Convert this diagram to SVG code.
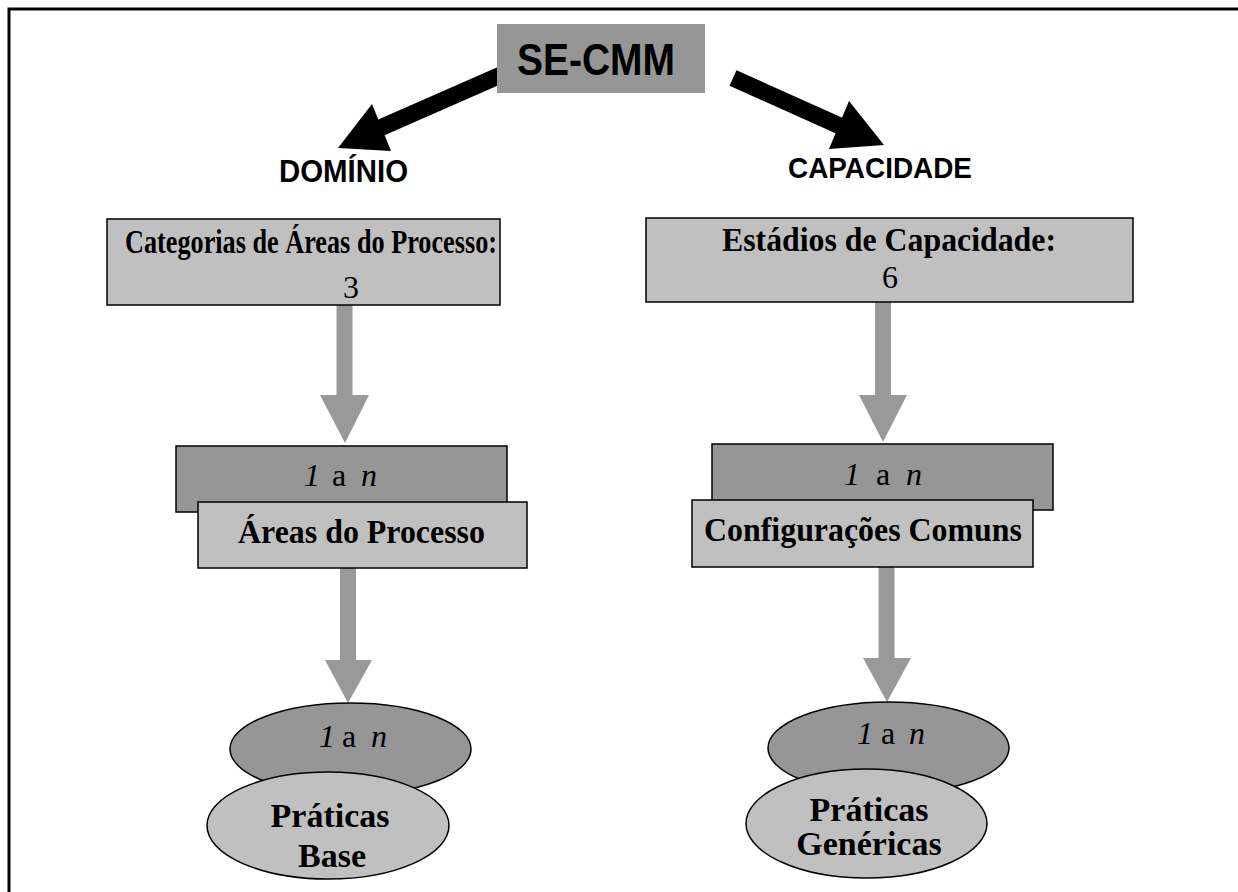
<svg xmlns="http://www.w3.org/2000/svg" width="1238" height="892" viewBox="0 0 1238 892">
  <style>
    .sans { font-family: "Liberation Sans", Arial, sans-serif; font-weight: bold; fill: #000; }
    .serif { font-family: "Liberation Serif", "Times New Roman", serif; fill: #000; }
    .b { font-weight: bold; font-size: 34px; }
    .n { font-size: 32px; }
    .i { font-style: italic; }
    .light { fill: #c0c0c0; stroke: #000; stroke-width: 1.5; }
    .dark { fill: #969696; stroke: #000; stroke-width: 1.5; }
    .shaft { stroke: #999999; stroke-width: 16; }
    .head { fill: #999999; }
    .bigline { stroke: #000; stroke-width: 17; }
  </style>

  <rect width="1238" height="892" fill="#fff"/>

  <!-- page frame: top and left rule -->
  <path d="M9 892 V9 H1238" fill="none" stroke="#000" stroke-width="3"/>

  <!-- connectors -->
  <g id="connectors">
    <!-- black arrows from the root -->
    <line class="bigline" x1="503" y1="74" x2="380" y2="128"/>
    <polygon points="372,104 391,151 338,148" fill="#000"/>
    <line class="bigline" x1="733" y1="78" x2="840" y2="126"/>
    <polygon points="849,101 829,149 884,145" fill="#000"/>

    <!-- grey downward arrows, left column -->
    <line class="shaft" x1="344.5" y1="305" x2="344.5" y2="396"/>
    <polygon class="head" points="320,395 369,395 345,443"/>
    <line class="shaft" x1="348" y1="568" x2="348" y2="661"/>
    <polygon class="head" points="325,660 372,660 348,703"/>

    <!-- grey downward arrows, right column -->
    <line class="shaft" x1="883" y1="302" x2="883" y2="396"/>
    <polygon class="head" points="859,395 907,395 883,442"/>
    <line class="shaft" x1="886.5" y1="567" x2="886.5" y2="659"/>
    <polygon class="head" points="863,658 911,658 887,702"/>
  </g>

  <!-- root -->
  <g id="se-cmm">
    <rect x="497" y="24" width="208" height="69" fill="#969696"/>
    <text class="sans" x="517" y="75" font-size="44" textLength="158" lengthAdjust="spacingAndGlyphs">SE-CMM</text>
  </g>

  <g id="dominio">
    <text class="sans" x="279" y="182" font-size="31" textLength="129" lengthAdjust="spacingAndGlyphs">DOMÍNIO</text>
  </g>

  <g id="capacidade">
    <text class="sans" x="788" y="178" font-size="30" textLength="184" lengthAdjust="spacingAndGlyphs">CAPACIDADE</text>
  </g>

  <!-- left column -->
  <g id="categorias">
    <rect class="light" x="107" y="219" width="393" height="86"/>
    <text class="serif b" x="125" y="253" font-size="33" textLength="372" lengthAdjust="spacingAndGlyphs">Categorias de Áreas do Processo:</text>
    <text class="serif n" x="351" y="298" text-anchor="middle">3</text>
  </g>

  <g id="areas-quantidade">
    <rect class="dark" x="176" y="446" width="331" height="66"/>
    <text class="serif n" y="486"><tspan class="i" x="304">1</tspan><tspan x="332">a</tspan><tspan class="i" x="361">n</tspan></text>
  </g>

  <g id="areas-processo">
    <rect class="light" x="198" y="502" width="329" height="66"/>
    <text class="serif b" x="238" y="543" textLength="247" lengthAdjust="spacingAndGlyphs">Áreas do Processo</text>
  </g>

  <g id="praticas-base-quantidade">
    <ellipse class="dark" cx="350.5" cy="749" rx="120.5" ry="46"/>
    <text class="serif n" y="747"><tspan class="i" x="319">1</tspan><tspan x="342">a</tspan><tspan class="i" x="371">n</tspan></text>
  </g>

  <g id="praticas-base">
    <ellipse class="light" cx="328" cy="825.5" rx="121" ry="53.5"/>
    <text class="serif b" font-size="32" text-anchor="middle"><tspan x="330" y="827">Práticas</tspan><tspan x="332" y="867">Base</tspan></text>
  </g>

  <!-- right column -->
  <g id="estadios">
    <rect class="light" x="646" y="218" width="487" height="84"/>
    <text class="serif b" x="722" y="251" font-size="32" textLength="334" lengthAdjust="spacingAndGlyphs">Estádios de Capacidade:</text>
    <text class="serif n" x="890" y="288" text-anchor="middle">6</text>
  </g>

  <g id="configuracoes-quantidade">
    <rect class="dark" x="712" y="444" width="341" height="66"/>
    <text class="serif n" y="485"><tspan class="i" x="844">1</tspan><tspan x="876">a</tspan><tspan class="i" x="906">n</tspan></text>
  </g>

  <g id="configuracoes-comuns">
    <rect class="light" x="692" y="500" width="341" height="67"/>
    <text class="serif b" x="704" y="541" textLength="318" lengthAdjust="spacingAndGlyphs">Configurações Comuns</text>
  </g>

  <g id="praticas-genericas-quantidade">
    <ellipse class="dark" cx="888.5" cy="748" rx="120.5" ry="46"/>
    <text class="serif n" y="744"><tspan class="i" x="857">1</tspan><tspan x="881">a</tspan><tspan class="i" x="909">n</tspan></text>
  </g>

  <g id="praticas-genericas">
    <ellipse class="light" cx="866.5" cy="823.5" rx="120.5" ry="54.5"/>
    <text class="serif b" font-size="30.5" text-anchor="middle"><tspan x="869" y="821">Práticas</tspan><tspan x="869" y="855">Genéricas</tspan></text>
  </g>
</svg>
